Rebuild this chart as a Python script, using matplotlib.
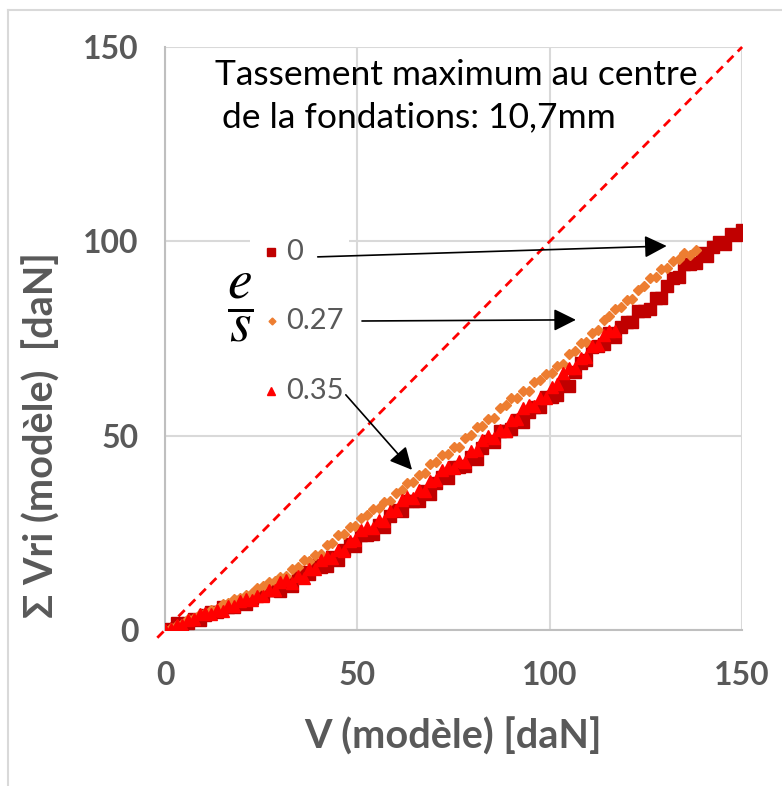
import matplotlib
matplotlib.use("Agg")
import matplotlib.pyplot as plt
from matplotlib.patches import Rectangle
from matplotlib.lines import Line2D

plt.rcParams["font.family"] = ["Lato", "DejaVu Sans"]
plt.rcParams["mathtext.fontset"] = "stix"

# === Datos ===
# e/s = 0 (cuadrados rojo oscuro)
x_0 = [0, 1.5, 3, 4.5, 6, 7.5, 9, 10.5, 12, 13.5, 15, 16.5, 18, 19.5, 21, 22.5, 24, 25.5,
       27, 28.5, 30, 31.5, 33, 34.5, 36, 37.5, 39, 40.5, 42, 43.5, 45, 46.5, 48, 49.5, 51,
       52.5, 54, 55.5, 57, 58.5, 60, 61.5, 63, 64.5, 66, 67.5, 69, 70.5, 72, 73.5, 75, 76.5,
       78, 79.5, 81, 82.5, 84, 85.5, 87, 88.5, 90, 91.5, 93, 94.5, 96, 97.5, 99, 100.5, 102,
       103.5, 105, 106.5, 108, 109.5, 111, 112.5, 114, 115.5, 117, 118.5, 120, 121.5, 123,
       124.5, 126, 127.5, 129, 130.5, 132, 133.5, 135, 136.5, 138, 139.5, 141, 142.5, 144,
       145.5, 147, 148.5, 150]
y_0 = [0.0, 0.3, 1.7, 1.6, 1.7, 2.9, 2.6, 3.8, 4.6, 4.5, 5.9, 5.8, 5.9, 7.1, 6.8, 8.2, 9.0,
       9.0, 10.4, 10.4, 10.1, 12.3, 11.3, 13.6, 14.8, 14.3, 16.7, 16.3, 16.4, 18.8, 18.1,
       20.5, 22.0, 21.7, 24.5, 24.4, 24.6, 27.1, 26.6, 29.2, 30.8, 30.6, 33.3, 33.2, 33.3,
       35.8, 35.1, 37.7, 39.3, 39.1, 42.0, 41.9, 42.1, 44.6, 44.1, 46.8, 48.5, 48.4, 51.3,
       51.3, 51.6, 54.1, 53.4, 56.0, 57.5, 57.3, 60.0, 60.0, 60.4, 63.2, 62.8, 66.3, 68.7,
       69.4, 72.7, 73.0, 73.6, 76.3, 75.5, 77.9, 79.3, 79.2, 82.1, 82.1, 82.6, 85.5, 85.3,
       88.4, 90.5, 90.9, 94.2, 94.2, 94.5, 97.1, 96.3, 98.6, 99.8, 99.3, 101.9, 101.6, 102.8]

# e/s = 0.27 (rombos naranja)
x_27 = [0, 1.5, 3, 4.5, 6, 7.5, 9, 10.5, 12, 13.5, 15, 16.5, 18, 19.5, 21, 22.5, 24, 25.5,
        27, 28.5, 30, 31.5, 33, 34.5, 36, 37.5, 39, 40.5, 42, 43.5, 45, 46.5, 48, 49.5, 51,
        52.5, 54, 55.5, 57, 58.5, 60, 61.5, 63, 64.5, 66, 67.5, 69, 70.5, 72, 73.5, 75, 76.5,
        78, 79.5, 81, 82.5, 84, 85.5, 87, 88.5, 90, 91.5, 93, 94.5, 96, 97.5, 99, 100.5, 102,
        103.5, 105, 106.5, 108, 109.5, 111, 112.5, 114, 115.5, 117, 118.5, 120, 121.5, 123,
        124.5, 126, 127.5, 129, 130.5, 132, 133.5, 135, 136.5, 138]
y_27 = [0.0, 0.4, 1.4, 1.6, 2.8, 3.2, 4.2, 4.3, 5.2, 5.4, 6.6, 7.0, 8.0, 8.1, 9.1, 9.4, 10.7,
        11.2, 12.3, 12.6, 13.7, 13.8, 15.8, 16.2, 17.9, 17.8, 19.4, 19.5, 21.8, 22.5, 24.4,
        24.6, 26.4, 26.7, 28.9, 29.5, 31.2, 31.3, 32.9, 33.1, 35.2, 35.9, 37.9, 38.1, 39.9,
        40.3, 42.6, 43.3, 45.1, 45.3, 47.0, 47.2, 49.5, 50.1, 52.1, 52.4, 54.2, 54.6, 57.0,
        57.8, 59.8, 59.8, 61.4, 61.6, 63.7, 64.2, 65.9, 66.1, 68.0, 68.5, 70.9, 71.8, 73.8,
        74.2, 76.3, 77.1, 79.8, 80.8, 82.7, 83.0, 84.8, 85.2, 87.6, 88.5, 90.5, 90.9, 92.8,
        93.1, 95.0, 95.4, 96.9, 96.5, 97.7]

# e/s = 0.35 (triangulos rojo)
x_35 = [0, 1.5, 3, 4.5, 6, 7.5, 9, 10.5, 12, 13.5, 15, 16.5, 18, 19.5, 21, 22.5, 24, 25.5,
        27, 28.5, 30, 31.5, 33, 34.5, 36, 37.5, 39, 40.5, 42, 43.5, 45, 46.5, 48, 49.5, 51,
        52.5, 54, 55.5, 57, 58.5, 60, 61.5, 63, 64.5, 66, 67.5, 69, 70.5, 72, 73.5, 75, 76.5,
        78, 79.5, 81, 82.5, 84, 85.5, 87, 88.5, 90, 91.5, 93, 94.5, 96, 97.5, 99, 100.5, 102,
        103.5, 105, 106.5, 108, 109.5, 111, 112.5, 114, 115.5, 117]
y_35 = [0.0, 0.3, 1.3, 1.2, 2.6, 2.7, 4.0, 4.4, 4.1, 5.1, 4.9, 6.2, 6.2, 7.4, 7.9, 7.8, 8.8,
        8.8, 10.2, 10.4, 12.3, 12.9, 12.2, 13.9, 13.4, 15.8, 15.7, 18.0, 18.9, 18.5, 20.5,
        20.3, 22.9, 23.1, 25.6, 26.6, 26.2, 28.2, 28.0, 30.7, 30.9, 33.4, 34.3, 33.9, 35.9,
        35.7, 38.4, 38.6, 41.1, 42.0, 41.6, 43.6, 43.3, 46.0, 46.3, 48.8, 49.8, 49.4, 51.5,
        51.3, 54.1, 54.4, 57.0, 58.0, 57.7, 59.8, 59.7, 62.6, 63.2, 66.1, 67.4, 67.5, 70.0,
        70.3, 73.1, 73.4, 75.9, 76.9, 76.9]

ticks = [0, 50, 100, 150]
leyenda = ["0", "0.27", "0.35"]

# === Figura ===
fig = plt.figure(figsize=(7.82, 7.86), dpi=100)
ax = fig.add_axes([0.211, 0.1985, 0.738, 0.7417])

# marco del area del grafico
fig.add_artist(Line2D([8 / 782, 8 / 782], [0, 1 - 10 / 786], color="#D9D9D9", lw=1.5))
fig.add_artist(Line2D([8 / 782, 1], [1 - 10 / 786, 1 - 10 / 786], color="#D9D9D9", lw=1.5))

ax.set_xlim(0, 150)
ax.set_ylim(0, 150)
ax.set_xticks(ticks)
ax.set_yticks(ticks)
ax.grid(True, color="#D9D9D9", lw=1.5)
ax.set_axisbelow(True)
for s in ["top", "right"]:
    ax.spines[s].set_visible(False)
for s in ["left", "bottom"]:
    ax.spines[s].set_color("#BFBFBF")
    ax.spines[s].set_linewidth(1.5)
ax.tick_params(length=0, labelsize=23, labelcolor="#595959")
ax.tick_params(axis="x", pad=22)
ax.tick_params(axis="y", pad=19)
for lab in ax.get_xticklabels() + ax.get_yticklabels():
    lab.set_fontweight("bold")

# linea 1:1
ax.plot([-2, 150], [-2, 150], color="red", ls=(0, (3.2, 2.2)), lw=2, clip_on=False, zorder=2)

ax.plot(x_0, y_0, ls="none", marker="s", ms=8, color="#C00000", mec="#C00000", zorder=3)
ax.plot(x_27, y_27, ls="none", marker="D", ms=5, color="#ED7D31", mec="#ED7D31", zorder=4)
ax.plot(x_35, y_35, ls="none", marker="^", ms=9, color="#FF0000", mec="#FF0000", zorder=5)

# leyenda manual
ax.add_patch(Rectangle((22, 56.6), 25.8, 45.8, facecolor="white", edgecolor="none", zorder=1.5))
ax.plot([27.5], [97.3], marker="s", ms=5.5, color="#C00000", ls="none", zorder=6)
ax.plot([27.8], [79.5], marker="D", ms=3.5, color="#ED7D31", ls="none", zorder=6)
ax.plot([27.5], [61.5], marker="^", ms=6, color="#FF0000", ls="none", zorder=6)
for yy, txt in zip([97.3, 79.5, 61.5], leyenda):
    ax.text(31.5, yy, txt, fontsize=21, color="#595959", va="center", ha="left", zorder=6)

ax.text(19.5, 82.9, r"$\dfrac{e}{s}$", fontsize=40, ha="center", va="center", zorder=6)

# texto
ax.text(13, 142.8, "Tassement maximum au centre", fontsize=25.5, va="center", ha="left")
ax.text(14.8, 131.8, "de la fondations: 10,7mm", fontsize=25.5, va="center", ha="left")

# flechas
flecha = dict(arrowstyle="-|>", color="black", lw=1.2, mutation_scale=34, shrinkA=0, shrinkB=0)
ax.annotate("", xy=(130.4, 98.8), xytext=(39.7, 96.0), arrowprops=flecha, zorder=7)
ax.annotate("", xy=(106.8, 79.8), xytext=(51.2, 79.5), arrowprops=flecha, zorder=7)
ax.annotate("", xy=(64.2, 41.2), xytext=(47.0, 60.5), arrowprops=flecha, zorder=7)

fig.text(453 / 782, 1 - 737 / 786, "V (modèle) [daN]", fontsize=28.5, fontweight="bold",
         color="#595959", ha="center", va="center")
fig.text(42 / 782, 1 - 435 / 786, "Σ Vri (modèle)  [daN]", fontsize=28.5, fontweight="bold",
         color="#595959", ha="center", va="center", rotation=90)

fig.savefig("out.png", dpi=100)
plt.close()
